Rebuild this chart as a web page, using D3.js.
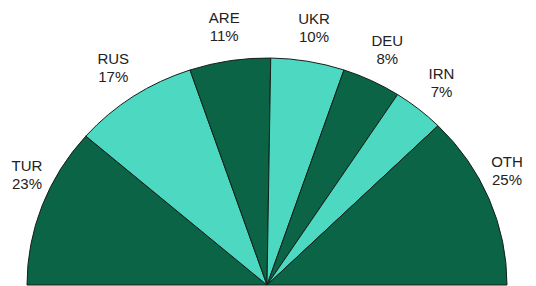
<!DOCTYPE html>
<html>
<head>
<meta charset="utf-8">
<script src="https://cdn.jsdelivr.net/npm/d3@7"></script>
<style>
  html, body { margin: 0; padding: 0; background: #fff; }
  svg { display: block; }
  .lbl { font-family: "Liberation Sans", Arial, sans-serif; font-size: 15px; fill: #222; }
</style>
</head>
<body>
<script>
// share of imports by country, %
var countries = ["TUR", "RUS", "ARE", "UKR", "DEU", "IRN", "OTH"];
var shares    = [23, 17, 11, 10, 8, 7, 25];
var fills     = ["#0b6446", "#4dd8c2", "#0b6446", "#4dd8c2", "#0b6446", "#4dd8c2", "#0b6446"];

var width = 536, height = 286;
var cx = 267, cy = 285;
var rx = 240, ry = 227;      // semicircle is a bit squashed
var labelR = 276;
var minX = 27, maxX = 507;   // keep labels inside the picture

var data = countries.map(function(c, i) { return { name: c, value: shares[i], fill: fills[i] }; });

var svg = d3.select("body").append("svg")
    .attr("width", width)
    .attr("height", height);

var pie = d3.pie()
    .sort(null)
    .value(function(d) { return d.value; })
    .startAngle(-Math.PI / 2)
    .endAngle(Math.PI / 2);

var arcs = pie(data);

var arc = d3.arc()
    .innerRadius(0)
    .outerRadius(rx);

var pieGroup = svg.append("g")
    .attr("transform", "translate(" + cx + "," + cy + ") scale(1," + (ry / rx) + ")");

pieGroup.selectAll("path")
    .data(arcs)
    .enter()
    .append("path")
    .attr("d", arc)
    .attr("fill", function(d) { return d.data.fill; })
    .attr("stroke", "#15201b")
    .attr("stroke-width", 1)
    .attr("vector-effect", "non-scaling-stroke");

// labels sit outside the rim on the mid angle;
// the two end ones get pushed in and lifted up
var lbl = svg.append("g").selectAll("text")
    .data(arcs)
    .enter()
    .append("text")
    .attr("class", "lbl")
    .attr("text-anchor", "middle")
    .attr("transform", function(d) {
        var a = (d.startAngle + d.endAngle) / 2;
        var x = cx + Math.sin(a) * labelR;
        var y = cy - Math.cos(a) * labelR * (ry / rx);
        var over = Math.max(0, minX - x, x - maxX);
        x = Math.max(minX, Math.min(maxX, x));
        y -= over;
        return "translate(" + x + "," + y + ")";
    });

lbl.append("tspan")
    .attr("x", 0)
    .attr("y", -4)
    .text(function(d) { return d.data.name; });

lbl.append("tspan")
    .attr("x", 0)
    .attr("y", 14)
    .text(function(d) { return d.data.value + "%"; });
</script>
</body>
</html>
